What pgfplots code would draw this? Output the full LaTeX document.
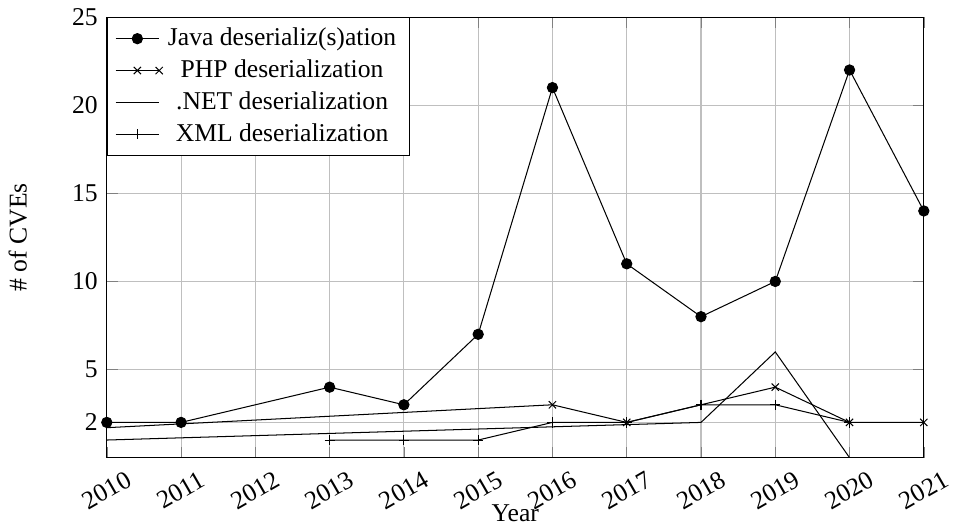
\documentclass[border=0pt]{standalone}
\usepackage{pgfplots}
\pgfplotsset{compat=1.18}
\usepackage{fontspec}
\setmainfont{Liberation Serif}
\begin{document}
\begin{tikzpicture}
\begin{axis}[
  scale only axis,
  width=319pt, height=172pt,
  xmin=2010, xmax=2021,
  ymin=0, ymax=25,
  xtick={2010,2011,2012,2013,2014,2015,2016,2017,2018,2019,2020,2021},
  ytick={2,5,10,15,20,25},
  /pgf/number format/1000 sep={},
  /pgf/number format/assume math mode=true,
  x tick label style={rotate=30},
  grid=major,
  xlabel={Year},
  ylabel={\# of CVEs},
  xlabel style={at={(axis description cs:0.5,-0.127)}, anchor=center},
  ylabel style={at={(axis description cs:-0.109,0.5)}, anchor=center},
  legend cell align=center,
  legend style={at={(0,1)}, anchor=north west, draw=black},
]
\addplot[black, mark=*] coordinates {
  (2010,2) (2011,2) (2013,4) (2014,3) (2015,7) (2016,21) (2017,11) (2018,8) (2019,10) (2020,22) (2021,14)
};
\addlegendentry{Java deserializ(s)ation}
\addplot[black, mark=x, mark indices={2,3,4,5,6,7}] coordinates {
  (2010,1.7) (2016,3) (2017,2) (2019,4) (2020,2) (2021,2)
};
\addlegendentry{PHP deserialization}
\addplot[black] coordinates {
  (2010,1) (2018,2) (2019,6) (2020,0) (2021,0)
};
\addlegendentry{.NET deserialization}
\addplot[black, mark=+] coordinates {
  (2013,1) (2014,1) (2015,1) (2016,2) (2017,2) (2018,3) (2019,3) (2020,2)
};
\addlegendentry{XML deserialization}
\end{axis}
\end{tikzpicture}
\end{document}
